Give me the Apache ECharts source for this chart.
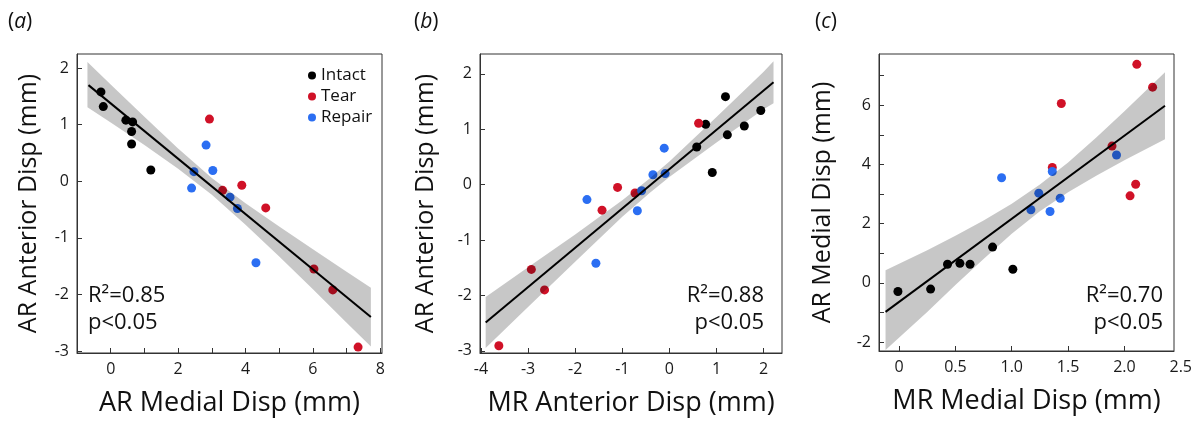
<!DOCTYPE html>
<html><head><meta charset="utf-8">
<script src="https://cdn.jsdelivr.net/npm/echarts@6/dist/echarts.min.js"></script>
<style>html,body{margin:0;padding:0;background:#fff}#c{width:1191px;height:424px}</style>
</head><body><div id="c"></div>
<script>
// ---------- data ----------
const groupNames = ['Intact', 'Tear', 'Repair'];
const groupColors = ['#000000', '#d01127', '#2b6ef2'];

// Panel (a): AR Medial Disp vs AR Anterior Disp
const aIntactX = [-0.29, -0.22, 0.45, 0.65, 0.62, 0.62, 1.19];
const aIntactY = [1.58, 1.32, 1.08, 1.05, 0.88, 0.66, 0.20];
const aTearX = [2.93, 3.32, 3.89, 4.60, 6.03, 6.59, 7.34];
const aTearY = [1.10, -0.16, -0.07, -0.47, -1.55, -1.92, -2.93];
const aRepairX = [2.83, 2.47, 2.40, 3.03, 3.54, 3.76, 4.31];
const aRepairY = [0.64, 0.17, -0.12, 0.19, -0.28, -0.48, -1.44];
const aFitX = [-0.66, 7.72];
const aFitY = [1.70, -2.40];
const aBandX = [-0.69, 0, 1, 2, 3, 4, 5, 6, 7, 7.72];
const aBandHi = [2.11, 1.71, 1.14, 0.58, 0.06, -0.39, -0.80, -1.20, -1.60, -1.88];
const aBandLo = [1.31, 1.04, 0.64, 0.22, -0.24, -0.77, -1.33, -1.91, -2.50, -2.92];

// Panel (b): MR Anterior Disp vs AR Anterior Disp
const bIntactX = [0.58, 0.77, 1.19, 1.23, 0.91, 1.59, 1.94];
const bIntactY = [0.68, 1.09, 1.59, 0.90, 0.22, 1.06, 1.34];
const bTearX = [0.62, -0.73, -1.10, -1.43, -2.93, -2.65, -3.62];
const bTearY = [1.11, -0.15, -0.05, -0.46, -1.53, -1.90, -2.91];
const bRepairX = [-0.11, -0.35, -0.09, -0.59, -0.68, -1.75, -1.56];
const bRepairY = [0.66, 0.18, 0.20, -0.11, -0.47, -0.27, -1.42];
const bFitX = [-3.90, 2.21];
const bFitY = [-2.49, 1.85];
const bBandX = [-3.9, -3, -2, -1, -0.42, 0, 1, 2, 2.21];
const bBandHi = [-2.03, -1.49, -0.90, -0.28, 0.11, 0.42, 1.22, 2.04, 2.23];
const bBandLo = [-2.95, -2.21, -1.39, -0.58, -0.15, 0.14, 0.76, 1.36, 1.47];

// Panel (c): MR Medial Disp vs AR Medial Disp
const cIntactX = [-0.01, 0.28, 0.43, 0.54, 0.63, 0.83, 1.01];
const cIntactY = [-0.29, -0.21, 0.63, 0.66, 0.63, 1.21, 0.46];
const cTearX = [2.11, 2.25, 1.44, 1.36, 1.89, 2.10, 2.05];
const cTearY = [7.38, 6.61, 6.06, 3.90, 4.62, 3.33, 2.94];
const cRepairX = [0.91, 1.24, 1.17, 1.34, 1.36, 1.43, 1.93];
const cRepairY = [3.55, 3.03, 2.47, 2.41, 3.76, 2.86, 4.32];
const cFitX = [-0.12, 2.36];
const cFitY = [-0.98, 5.98];
const cBandX = [-0.12, 0.25, 0.5, 0.75, 1.0, 1.25, 1.5, 1.75, 2.0, 2.36];
const cBandHi = [0.43, 1.10, 1.59, 2.11, 2.67, 3.32, 4.07, 4.91, 5.80, 7.11];
const cBandLo = [-2.27, -0.98, -0.07, 0.81, 1.66, 2.42, 3.06, 3.62, 4.14, 4.85];

// tick values
const aXTicks = [-1, 0, 1, 2, 3, 4, 5, 6, 7, 8];
const aXLabels = [0, 2, 4, 6, 8];
const abYTicks = [-3, -2, -1, 0, 1, 2];
const bXTicks = [-4, -3, -2, -1, 0, 1, 2];
const cXTicks = [0, 0.5, 1.0, 1.5, 2.0];
const cXExtraLabel = 2.5;
const cYTicks = [-2, -1, 0, 1, 2, 3, 4, 5, 6, 7];
const cYLabels = [-2, 0, 2, 4, 6];

const statsText = [['R²=0.85', 'p<0.05'], ['R²=0.88', 'p<0.05'], ['R²=0.70', 'p<0.05']];
const panelTags = ['a', 'b', 'c'];
const xTitles = ['AR Medial Disp (mm)', 'MR Anterior Disp (mm)', 'MR Medial Disp (mm)'];
const yTitles = ['AR Anterior Disp (mm)', 'AR Anterior Disp (mm)', 'AR Medial Disp (mm)'];

// ---------- build ----------
const FONT = 'Open Sans';
const zip = (xs, ys) => xs.map((x, i) => [x, ys[i]]);

const panels = [
  { groups: [[aIntactX, aIntactY], [aTearX, aTearY], [aRepairX, aRepairY]], fit: [aFitX, aFitY], band: [aBandX, aBandHi, aBandLo] },
  { groups: [[bIntactX, bIntactY], [bTearX, bTearY], [bRepairX, bRepairY]], fit: [bFitX, bFitY], band: [bBandX, bBandHi, bBandLo] },
  { groups: [[cIntactX, cIntactY], [cTearX, cTearY], [cRepairX, cRepairY]], fit: [cFitX, cFitY], band: [cBandX, cBandHi, cBandLo] }
];

const grids = [
  { left: 77, top: 54, width: 305, height: 299 },
  { left: 480, top: 54, width: 302, height: 299 },
  { left: 879, top: 54, width: 295, height: 297 }
];

const axisLine = { show: true, onZero: false, lineStyle: { color: '#333', width: 1 } };
const tickStyle = { show: true, inside: true, length: 5, lineStyle: { color: '#333', width: 1 } };
const labelStyle = { color: '#1a1a1a', fontSize: 16, fontFamily: FONT };
const xNameStyle = { color: '#111', fontSize: 27, fontFamily: FONT };
const yNameStyle = { color: '#111', fontSize: 25, fontFamily: FONT };

const xAxes = [
  { gridIndex: 0, type: 'value', min: -1, max: 8.05,
    axisTick: Object.assign({}, tickStyle, { customValues: aXTicks }),
    axisLabel: Object.assign({}, labelStyle, { customValues: aXLabels, margin: 8 }) },
  { gridIndex: 1, type: 'value', min: -4.02, max: 2.39,
    axisTick: Object.assign({}, tickStyle, { customValues: bXTicks }),
    axisLabel: Object.assign({}, labelStyle, { customValues: bXTicks, margin: 8 }) },
  { gridIndex: 2, type: 'value', min: -0.178, max: 2.44,
    axisTick: Object.assign({}, tickStyle, { customValues: cXTicks }),
    axisLabel: Object.assign({}, labelStyle, { customValues: cXTicks, margin: 8,
      formatter: v => (v === 0 ? '0' : v.toFixed(1)) }) }
].map((a, i) => Object.assign(a, {
  axisLine, splitLine: { show: false },
  name: xTitles[i], nameLocation: 'middle', nameGap: 37, nameTextStyle: xNameStyle
}));

const yAxes = [
  { gridIndex: 0, type: 'value', min: -3.035, max: 2.25,
    axisTick: Object.assign({}, tickStyle, { customValues: abYTicks }),
    axisLabel: Object.assign({}, labelStyle, { customValues: abYTicks, margin: 8 }), nameGap: 36 },
  { gridIndex: 1, type: 'value', min: -3.04, max: 2.36,
    axisTick: Object.assign({}, tickStyle, { customValues: abYTicks }),
    axisLabel: Object.assign({}, labelStyle, { customValues: abYTicks, margin: 8 }), nameGap: 42 },
  { gridIndex: 2, type: 'value', min: -2.3, max: 7.73,
    axisTick: Object.assign({}, tickStyle, { customValues: cYTicks }),
    axisLabel: Object.assign({}, labelStyle, { customValues: cYLabels, margin: 8 }), nameGap: 44 }
].map((a, i) => Object.assign(a, {
  axisLine, splitLine: { show: false },
  name: yTitles[i], nameLocation: 'middle', nameRotate: 90, nameTextStyle: yNameStyle
}));

const series = [];
panels.forEach((p, pi) => {
  p.groups.forEach((g, gi) => {
    series.push({
      type: 'scatter', name: groupNames[gi], xAxisIndex: pi, yAxisIndex: pi,
      data: zip(g[0], g[1]), symbol: 'circle', symbolSize: 9,
      itemStyle: { color: groupColors[gi], opacity: 1 }, z: 2, silent: true
    });
  });
  const [bx, hi, lo] = p.band;
  series.push({
    type: 'custom', name: 'band' + pi, xAxisIndex: pi, yAxisIndex: pi,
    data: bx.map((x, i) => [x, lo[i], hi[i]]),
    encode: { x: 0, y: [1, 2] }, z: 3, silent: true,
    renderItem: (params, api) => {
      if (params.dataIndex !== 0) return null;
      const pts = [];
      for (let i = 0; i < bx.length; i++) pts.push(api.coord([bx[i], hi[i]]));
      for (let i = bx.length - 1; i >= 0; i--) pts.push(api.coord([bx[i], lo[i]]));
      return { type: 'polygon', shape: { points: pts }, style: { fill: 'rgba(0,0,0,0.22)' } };
    }
  });
  series.push({
    type: 'line', name: 'fit' + pi, xAxisIndex: pi, yAxisIndex: pi,
    data: zip(p.fit[0], p.fit[1]), symbol: 'none', z: 4, silent: true,
    lineStyle: { color: '#000', width: 2 }
  });
});

const graphics = [];
const tagLeft = [8, 414, 815];
panelTags.forEach((t, i) => {
  graphics.push({ type: 'text', left: tagLeft[i], top: 12,
    style: { text: '{n|(}{i|' + t + '}{n|)}', rich: {
      n: { fontSize: 21, fontFamily: FONT, fill: '#111' },
      i: { fontSize: 21, fontFamily: FONT, fontStyle: 'italic', fill: '#111' } } } });
});
const statsPos = [
  { x: 88, align: 'left' }, { x: 764, align: 'right' }, { x: 1163, align: 'right' }
];
statsText.forEach((s, i) => {
  graphics.push({ type: 'text', x: statsPos[i].x, y: 282,
    style: { text: s.join('\n'), fontSize: 22, lineHeight: 27, fontFamily: FONT, fill: '#111',
      align: statsPos[i].align, verticalAlign: 'top' } });
});

const chart = echarts.init(document.getElementById('c'), null, { renderer: 'canvas' });
chart.setOption({
  animation: false,
  backgroundColor: '#fff',
  grid: grids.map(g => Object.assign({ show: true, borderColor: '#333', borderWidth: 1, backgroundColor: 'transparent' }, g)),
  xAxis: xAxes,
  yAxis: yAxes,
  legend: {
    data: groupNames, orient: 'vertical', left: 303, top: 62,
    icon: 'circle', itemWidth: 8, itemHeight: 8, itemGap: 4,
    textStyle: { fontSize: 17, fontFamily: FONT, color: '#111', lineHeight: 17 },
    selectedMode: false
  },
  series,
  graphic: graphics
});
// label at 2.5 lies just beyond the end of panel (c)'s x axis in the reference
const p25 = chart.convertToPixel({ xAxisIndex: 2 }, cXExtraLabel);
const baseY = grids[2].top + grids[2].height;
graphics.push({ type: 'text', x: p25, y: baseY + 8,
  style: { text: cXExtraLabel.toFixed(1), fontSize: 16, fontFamily: FONT, fill: '#1a1a1a', align: 'center', verticalAlign: 'top' } });
chart.setOption({ graphic: graphics });
</script></body></html>
